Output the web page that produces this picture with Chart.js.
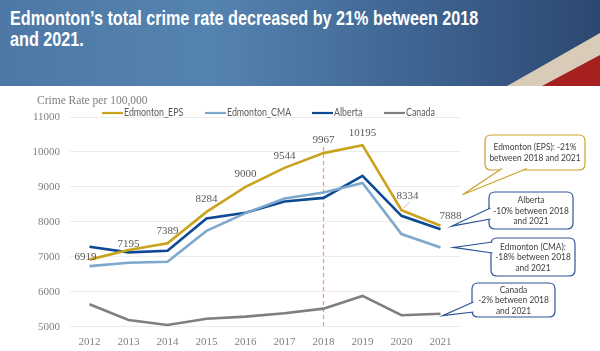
<!DOCTYPE html>
<html>
<head>
<meta charset="utf-8">
<script src="https://cdn.jsdelivr.net/npm/chart.js@4.4.1/dist/chart.umd.min.js"></script>
<style>
  html, body { margin: 0; padding: 0; background: #fff; }
  #page { position: relative; width: 600px; height: 351px; overflow: hidden; background: #fff; }
  #header {
    position: absolute; left: 0; top: 0; width: 600px; height: 86px;
    background: linear-gradient(90deg, #4d78a5 0%, #5583b0 35%, #3e6491 70%, #2c4870 100%);
  }
  #header svg { position: absolute; left: 0; top: 0; }
  #header h1 {
    position: absolute; left: 10px; top: 7px; margin: 0; width: 800px; white-space: nowrap;
    font: bold 20.5px "Liberation Sans", Arial, sans-serif; line-height: 21px; color: #fff;
    transform: scaleX(0.79); transform-origin: 0 0;
  }
  #chart { position: absolute; left: 0; top: 0; }
</style>
</head>
<body>
<div id="page">
  <div id="header">
    <svg width="600" height="86">
      <polygon points="507,86 600,33 600,86" fill="#d8ccb9"/>
      <polygon points="542,86 600,55 600,86" fill="#a5201f"/>
    </svg>
    <h1>Edmonton’s total crime rate decreased by 21% between 2018<br>and 2021.</h1>
  </div>
  <canvas id="chart" width="600" height="351"></canvas>
</div>
<script>
// values
const years = ["2012", "2013", "2014", "2015", "2016", "2017", "2018", "2019", "2020", "2021"];
const edmontonEps = [6919, 7195, 7389, 8284, 9000, 9544, 9967, 10195, 8334, 7888];
const edmontonCma = [6734, 6828, 6857, 7742, 8250, 8670, 8840, 9115, 7650, 7268];
const alberta = [7287, 7126, 7172, 8097, 8258, 8580, 8685, 9315, 8172, 7790];
const canada = [5642, 5192, 5048, 5229, 5287, 5384, 5516, 5880, 5327, 5372];

const seriesNames = ["Edmonton_EPS", "Edmonton_CMA", "Alberta", "Canada"];
const seriesColors = ["#c9a21e", "#7ea8cc", "#0d4a93", "#7f7f7f"];
const markerYear = "2018";

const calloutTexts = [
    ["Edmonton (EPS): -21%", "between 2018 and 2021"],
    ["Alberta", "-10% between 2018", "and 2021"],
    ["Edmonton (CMA):", "-18% between 2018", "and 2021"],
    ["Canada", "-2% between 2018", "and 2021"],
];

const serif = '"Liberation Serif", "Times New Roman", serif';
const sans = 'Lato, "Open Sans", sans-serif';

// label offsets around the EPS points (px)
const labelOffsets = [[-4, -3], [0, -6], [0, -12.5], [0, -12.5], [0, -12.5], [0, -12], [0, -13], [0, -12.5], [6, -14], [10, -10]];

// callout boxes: rect [x, y, w, h], tail base points, tip offset from the series' last point
const callouts = [
    { ds: 0, rect: [485, 135, 100, 35], base: [[502, 168.5], [527, 168.5]], tip: [22, -31], color: "#c9a22a" },
    { ds: 2, rect: [489, 192, 84, 37], base: [[490.5, 208], [490.5, 219]], tip: [11, -3], color: "#2f5597" },
    { ds: 1, rect: [491, 238, 84, 38], base: [[492.5, 242], [492.5, 253]], tip: [13, 0], color: "#2f5597" },
    { ds: 3, rect: [472, 283, 83, 34], base: [[473.5, 302], [473.5, 312]], tip: [2, 2], color: "#2f5597" },
];

function roundRectPath(ctx, x, y, w, h, r) {
    ctx.beginPath();
    ctx.moveTo(x + r, y);
    ctx.lineTo(x + w - r, y);
    ctx.quadraticCurveTo(x + w, y, x + w, y + r);
    ctx.lineTo(x + w, y + h - r);
    ctx.quadraticCurveTo(x + w, y + h, x + w - r, y + h);
    ctx.lineTo(x + r, y + h);
    ctx.quadraticCurveTo(x, y + h, x, y + h - r);
    ctx.lineTo(x, y + r);
    ctx.quadraticCurveTo(x, y, x + r, y);
    ctx.closePath();
}

// calibri-ish narrow text: squeeze horizontally
function narrowText(ctx, text, x, y, squeeze) {
    ctx.save();
    ctx.translate(x, y);
    ctx.scale(squeeze, 1);
    ctx.fillText(text, 0, 0);
    ctx.restore();
}

const extrasPlugin = {
    id: "extras",
    beforeDatasetsDraw(chart) {
        // dashed marker at 2018
        const ctx = chart.ctx;
        const xs = chart.scales.x, ys = chart.scales.y;
        const i = years.indexOf(markerYear);
        const x = xs.getPixelForValue(i);
        ctx.save();
        ctx.strokeStyle = "#f0a070";
        ctx.lineWidth = 1.3;
        ctx.setLineDash([4, 3]);
        ctx.beginPath();
        ctx.moveTo(x, ys.getPixelForValue(edmontonEps[i]) - 6);
        ctx.lineTo(x, chart.chartArea.bottom);
        ctx.stroke();
        ctx.restore();
    },
    afterDraw(chart) {
        const ctx = chart.ctx;
        const xs = chart.scales.x, ys = chart.scales.y;
        ctx.save();

        // axis title
        ctx.fillStyle = "#7f7f7f";
        ctx.font = "11.5px " + serif;
        ctx.textBaseline = "middle";
        ctx.textAlign = "left";
        ctx.fillText("Crime Rate per 100,000", 37, 101);

        // legend
        const legendX = [102, 205, 312, 384];
        ctx.font = "10.5px " + sans;
        chart.data.datasets.forEach((ds, k) => {
            ctx.strokeStyle = ds.borderColor;
            ctx.lineWidth = 2.2;
            ctx.beginPath();
            ctx.moveTo(legendX[k], 113);
            ctx.lineTo(legendX[k] + 21, 113);
            ctx.stroke();
            ctx.fillStyle = "#595959";
            narrowText(ctx, ds.label, legendX[k] + 22, 113, 0.84);
        });

        // EPS value labels
        ctx.fillStyle = "#595959";
        ctx.font = "11px " + serif;
        ctx.textAlign = "center";
        edmontonEps.forEach((v, k) => {
            const px = xs.getPixelForValue(k), py = ys.getPixelForValue(v);
            const [dx, dy] = labelOffsets[k];
            ctx.fillText(String(v), px + dx, py + dy);
        });
        // leader line for 2020 label
        const p20x = xs.getPixelForValue(8), p20y = ys.getPixelForValue(edmontonEps[8]);
        ctx.strokeStyle = "#a6a6a6";
        ctx.lineWidth = 0.8;
        ctx.beginPath();
        ctx.moveTo(p20x + 2, p20y - 2);
        ctx.lineTo(p20x + 8, p20y - 8);
        ctx.stroke();

        // callouts
        const last = years.length - 1;
        callouts.forEach((c, k) => {
            const data = chart.data.datasets[c.ds].data;
            const tipX = xs.getPixelForValue(last) + c.tip[0];
            const tipY = ys.getPixelForValue(data[last]) + c.tip[1];
            const [x, y, w, h] = c.rect;
            ctx.lineWidth = 1.2;
            ctx.strokeStyle = c.color;
            ctx.fillStyle = "#fff";
            roundRectPath(ctx, x, y, w, h, 6);
            ctx.fill();
            ctx.stroke();
            ctx.beginPath();
            ctx.moveTo(c.base[0][0], c.base[0][1]);
            ctx.lineTo(tipX, tipY);
            ctx.lineTo(c.base[1][0], c.base[1][1]);
            ctx.closePath();
            ctx.fill();
            ctx.beginPath();
            ctx.moveTo(c.base[0][0], c.base[0][1]);
            ctx.lineTo(tipX, tipY);
            ctx.lineTo(c.base[1][0], c.base[1][1]);
            ctx.stroke();

            const lines = calloutTexts[k];
            ctx.fillStyle = "#404040";
            ctx.font = "10px " + sans;
            ctx.textAlign = "center";
            const lh = 10.5;
            const cy = y + h / 2 - (lines.length - 1) * lh / 2;
            lines.forEach((t, j) => narrowText(ctx, t, x + w / 2, cy + j * lh, 0.84));
        });
        ctx.restore();
    },
};

const seriesData = [edmontonEps, edmontonCma, alberta, canada];

new Chart(document.getElementById("chart"), {
    type: "line",
    data: {
        labels: years,
        datasets: seriesData.map((d, k) => ({
            label: seriesNames[k],
            data: d,
            borderColor: seriesColors[k],
            backgroundColor: seriesColors[k],
            borderWidth: 2.6,
            pointRadius: 0,
            tension: 0,
        })),
    },
    options: {
        responsive: false,
        animation: false,
        layout: { padding: { top: 117, left: 0, right: 140, bottom: 0 } },
        plugins: { legend: { display: false }, tooltip: { enabled: false } },
        scales: {
            x: {
                offset: true,
                grid: { display: false, drawTicks: false },
                border: { display: false },
                ticks: { color: "#7f7f7f", font: { family: serif, size: 11 }, padding: 9, maxRotation: 0 },
                afterFit(s) { s.height = 24.3; },
            },
            y: {
                min: 5000,
                max: 11000,
                grid: { color: "#ececec", lineWidth: 1, drawTicks: false },
                border: { display: false },
                ticks: { stepSize: 1000, color: "#7f7f7f", font: { family: serif, size: 11 }, padding: 10, callback: (v) => String(v) },
                afterFit(s) { s.width = 70; },
            },
        },
    },
    plugins: [extrasPlugin],
});
</script>
</body>
</html>
